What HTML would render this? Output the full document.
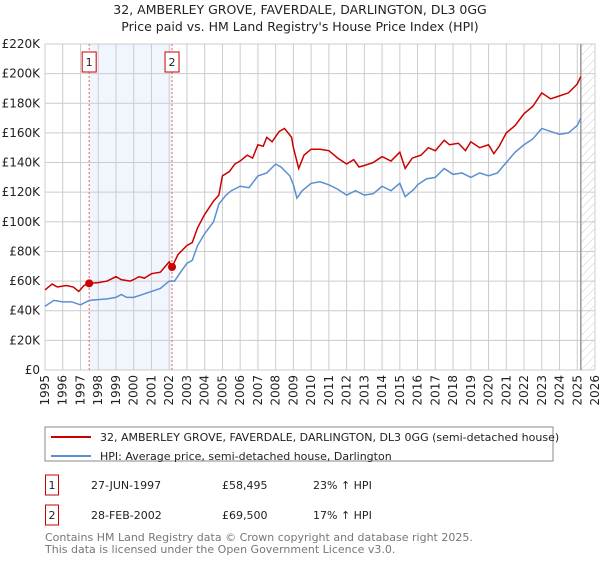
<!DOCTYPE html>
<html><head><meta charset="utf-8"><style>
body{margin:0;background:#fff;font-family:"Liberation Sans","DejaVu Sans",sans-serif;}
svg text{font-family:"DejaVu Sans","Liberation Sans",sans-serif;}
</style></head><body>
<svg id="c" width="600" height="560" xmlns="http://www.w3.org/2000/svg">
<defs><pattern id="h" width="6" height="6" patternUnits="userSpaceOnUse" patternTransform="rotate(45)"><line x1="0" y1="0" x2="0" y2="6" stroke="#ccc" stroke-width="1"/></pattern></defs>
<text x="300" y="14" text-anchor="middle" font-size="12.5" fill="#222">32, AMBERLEY GROVE, FAVERDALE, DARLINGTON, DL3 0GG</text>
<text x="300" y="31" text-anchor="middle" font-size="12.5" fill="#222">Price paid vs. HM Land Registry's House Price Index (HPI)</text>
<g id="grid"></g><g id="marks"></g>
<rect x="45" y="427" width="508" height="34" fill="#fff" stroke="#888"/>
<line x1="51" y1="437" x2="91" y2="437" stroke="#cc0000" stroke-width="2"/>
<text x="100" y="441" font-size="11" fill="#222">32, AMBERLEY GROVE, FAVERDALE, DARLINGTON, DL3 0GG (semi-detached house)</text>
<line x1="51" y1="456" x2="91" y2="456" stroke="#5b8fd0" stroke-width="2"/>
<text x="100" y="460" font-size="11" fill="#222">HPI: Average price, semi-detached house, Darlington</text>
<g font-size="11" fill="#222">
<rect x="45.5" y="475" width="13" height="20" fill="none" stroke="#cc0000"/>
<text x="52" y="489" text-anchor="middle">1</text>
<text x="91" y="489">27-JUN-1997</text>
<text x="222" y="489">£58,495</text>
<text x="313" y="489">23% ↑ HPI</text>
<rect x="45.5" y="505" width="13" height="20" fill="none" stroke="#cc0000"/>
<text x="52" y="519" text-anchor="middle">2</text>
<text x="91" y="519">28-FEB-2002</text>
<text x="222" y="519">£69,500</text>
<text x="313" y="519">17% ↑ HPI</text>
</g>
<text x="45" y="541" font-size="11" fill="#777">Contains HM Land Registry data © Crown copyright and database right 2025.</text>
<text x="45" y="553" font-size="11" fill="#777">This data is licensed under the Open Government Licence v3.0.</text>
</svg>
<script>
const yTicks=[0,20,40,60,80,100,120,140,160,180,200,220];
const years=[1995,1996,1997,1998,1999,2000,2001,2002,2003,2004,2005,2006,2007,2008,2009,2010,2011,2012,2013,2014,2015,2016,2017,2018,2019,2020,2021,2022,2023,2024,2025,2026];
const saleDates=[1997.49,2002.16];
const salePrices=[58.495,69.5];
const hpiT=[1995,1995.5,1996,1996.5,1997,1997.5,1998,1998.5,1999,1999.3,1999.6,2000,2000.5,2001,2001.5,2002,2002.3,2002.7,2003,2003.3,2003.6,2004,2004.5,2004.8,2005.2,2005.5,2006,2006.5,2007,2007.5,2008,2008.3,2008.8,2009,2009.2,2009.5,2010,2010.5,2011,2011.5,2012,2012.5,2013,2013.5,2014,2014.5,2015,2015.3,2015.8,2016,2016.5,2017,2017.5,2018,2018.5,2019,2019.5,2020,2020.5,2021,2021.5,2022,2022.5,2023,2023.5,2024,2024.5,2025,2025.2];
const hpiV=[43,47,46,46,44,47,47.5,48,49,51,49,49,51,53,55,60,60,67,72,74,84,92,100,112,118,121,124,123,131,133,139,137,131,125,116,121,126,127,125,122,118,121,118,119,124,121,126,117,122,125,129,130,136,132,133,130,133,131,133,140,147,152,156,163,161,159,160,165,170];
const redT=[1995,1995.4,1995.7,1996.2,1996.6,1996.9,1997.2,1997.49,1998,1998.5,1999,1999.3,1999.8,2000,2000.3,2000.6,2001,2001.5,2002,2002.16,2002.5,2003,2003.3,2003.6,2004,2004.5,2004.8,2005,2005.4,2005.7,2006,2006.4,2006.7,2007,2007.3,2007.5,2007.8,2008.2,2008.5,2008.9,2009,2009.3,2009.6,2010,2010.5,2011,2011.5,2012,2012.4,2012.7,2013,2013.5,2014,2014.5,2015,2015.3,2015.7,2016.2,2016.6,2017,2017.5,2017.8,2018.3,2018.7,2019,2019.5,2020,2020.3,2020.6,2021,2021.5,2022,2022.5,2023,2023.5,2024,2024.5,2025,2025.2];
const redV=[54,58,56,57,56,53,57,58.5,59,60,63,61,60,61,63,62,65,66,73,69.5,78,84,86,96,105,114,118,131,134,139,141,145,143,152,151,157,154,161,163,157,150,136,145,149,149,148,143,139,142,137,138,140,144,141,147,136,143,145,150,148,155,152,153,148,154,150,152,146,151,160,165,173,178,187,183,185,187,193,198];
const NS='http://www.w3.org/2000/svg';
const X=t=>45+(t-1995)*(550/31), Y=v=>370-v*(326/220);
function mk(tag,at,parent){const e=document.createElementNS(NS,tag);for(const k in at)e.setAttribute(k,at[k]);parent.appendChild(e);return e;}
const g=document.getElementById('grid'), m=document.getElementById('marks');
let e=mk('rect',{x:X(saleDates[0]),y:44,width:X(saleDates[1])-X(saleDates[0]),height:326,fill:'#eef3fc',opacity:0.8},g);


e=mk('rect',{x:X(2025.2),y:44,width:595-X(2025.2),height:326,fill:'url(#h)'},g);


yTicks.forEach(v=>{
 e=mk('line',{x1:45,x2:595,y1:Y(v),y2:Y(v),stroke:'#ccc'},g);
 
 
 e=mk('text',{x:40,y:Y(v)+4,'text-anchor':'end','font-size':'12',fill:'#222'},g);
 e.textContent=v===0?'£0':'£'+v+'K';
 
 
});
years.forEach(yr=>{
 e=mk('line',{x1:X(yr),x2:X(yr),y1:44,y2:370,stroke:'#ccc'},g);
 
 
 e=mk('text',{x:X(yr)+4,y:375,'text-anchor':'end','font-size':'12',fill:'#222',transform:`rotate(-90 ${X(yr)+4} 375)`},g);
 e.textContent=yr;
 
 
});
e=mk('line',{x1:X(2025.2),x2:X(2025.2),y1:44,y2:370,stroke:'#999','stroke-width':1.5},g);


saleDates.forEach((d,i)=>{
 e=mk('line',{x1:X(d),x2:X(d),y1:44,y2:370,stroke:'#f06060','stroke-dasharray':'2,2'},g);
 
 
 e=mk('rect',{x:X(d)-7,y:52,width:14,height:20,fill:'#fff',stroke:'#cc0000'},g);
 
 
 e=mk('text',{x:X(d),y:66,'text-anchor':'middle','font-size':'11',fill:'#222'},g);
 e.textContent=String(i+1);
 
 
});
e=mk('polyline',{points:hpiT.map((t,i)=>X(t)+','+Y(hpiV[i])).join(' '),fill:'none',stroke:'#5b8fd0','stroke-width':1.5},m);


e=mk('polyline',{points:redT.map((t,i)=>X(t)+','+Y(redV[i])).join(' '),fill:'none',stroke:'#cc0000','stroke-width':1.5},m);


saleDates.forEach((d,i)=>{
 e=mk('circle',{cx:X(d),cy:Y(salePrices[i]),r:4,fill:'#cc0000'},m);
 
 
});
</script>
</body></html>
